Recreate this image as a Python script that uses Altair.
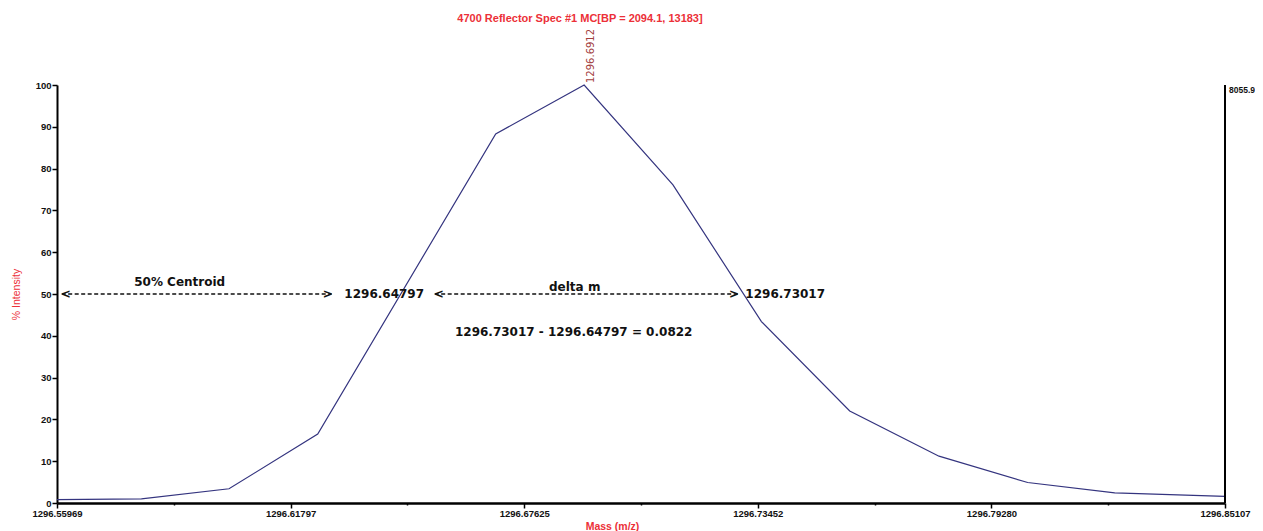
import altair as alt
import pandas as pd

# ---- data -------------------------------------------------------------
mass = [1296.55969, 1296.58075, 1296.60260, 1296.62473, 1296.66913, 1296.69120,
        1296.71336, 1296.73542, 1296.75745, 1296.77972, 1296.80185, 1296.82356,
        1296.85107]
intensity = [0.8, 1.0, 3.4, 16.5, 88.3, 100.0, 76.1, 43.4, 22.0, 11.2, 4.9, 2.4, 1.6]

x_major = [1296.55969, 1296.61797, 1296.67625, 1296.73452, 1296.79280, 1296.85107]
x_minor = [1296.58883, 1296.64711, 1296.70539, 1296.76366, 1296.82194]
y_ticks = list(range(0, 101, 5))

title_text = "4700 Reflector Spec #1 MC[BP = 2094.1, 13183]"
peak_mass = [1296.6912]
peak_level = [100]
peak_label = ["1296.6912"]
full_scale_label = ["8055.9"]

arrow_level = [50, 50]
arrow_starts = [1296.56086, 1296.65391]
arrow_ends = [1296.62822, 1296.72958]

note_text = ["50% Centroid", "1296.64797", "delta m", "1296.73017",
             "1296.73017 - 1296.64797 = 0.0822"]
note_mass = [1296.59030, 1296.64132, 1296.68884, 1296.74135, 1296.68859]
note_level = [52.8, 50.0, 51.7, 50.0, 40.8]

# ---- scales / axes ------------------------------------------------------
xscale = alt.Scale(domain=[x_major[0], x_major[-1]], nice=False, zero=False)
yscale = alt.Scale(domain=[0, 100], nice=False, zero=True)

RED = "#ec3038"
AX_FONT = "Liberation Sans"
XT = "Mass (m/z)"
YT = "% Intensity"

xaxis = alt.Axis(
    values=sorted(x_major + x_minor),
    labelExpr="round(datum.index * 10) % 2 === 0 ? format(datum.value, '.5f') : ''",
    tickSize={"condition": {"test": "round(datum.index * 10) % 2 === 0", "value": 5}, "value": 2},
    grid=False, domainColor="black", domainWidth=2.5, tickColor="black", tickWidth=1.5,
    labelFont=AX_FONT, labelFontWeight="bold", labelFontSize=9.5, labelColor="#111",
    labelFlush=False, labelOverlap=False, labelPadding=0,
    titleFont=AX_FONT, titleFontWeight="bold", titleFontSize=10.5, titleColor=RED,
    titleX=555, titleY=23, titleBaseline="middle", titleAlign="center",
)
yaxis = alt.Axis(
    values=y_ticks,
    labelExpr="datum.value % 10 === 0 ? datum.value : ''",
    tickSize={"condition": {"test": "datum.value % 10 === 0", "value": 5}, "value": 3},
    grid=False, domainColor="black", domainWidth=2, tickColor="black", tickWidth=1.5,
    labelFont=AX_FONT, labelFontWeight="bold", labelFontSize=9.5, labelColor="#111",
    labelPadding=1, labelOverlap=False,
    titleFont=AX_FONT, titleFontWeight="normal", titleFontSize=10.5, titleColor=RED,
    titleX=-41, titleY=209, titleAngle=270, titleBaseline="middle", titleAlign="center",
)

X = lambda f: alt.X(f, scale=xscale, title=XT)
Y = lambda f: alt.Y(f, scale=yscale, title=YT)

# ---- layers -------------------------------------------------------------
spec_df = pd.DataFrame({"mass": mass, "intensity": intensity})
line = alt.Chart(spec_df).mark_line(color="#34347f", strokeWidth=1.2).encode(
    x=alt.X("mass:Q", scale=xscale, axis=xaxis, title=XT),
    y=alt.Y("intensity:Q", scale=yscale, axis=yaxis, title=YT),
)

arrow_df = pd.DataFrame({"mass": arrow_starts, "mass_end": arrow_ends, "intensity": arrow_level})
dashes = alt.Chart(arrow_df).mark_rule(color="#111", strokeWidth=1.3, strokeDash=[4, 2.5]).encode(
    x=X("mass:Q"), x2="mass_end:Q", y=Y("intensity:Q"),
)
left_heads = alt.Chart(arrow_df).mark_text(
    text="<", align="left", baseline="middle", font="DejaVu Sans", fontWeight="bold",
    fontSize=12, color="#111", dx=-1).encode(x=X("mass:Q"), y=Y("intensity:Q"))
right_heads = alt.Chart(arrow_df).mark_text(
    text=">", align="right", baseline="middle", font="DejaVu Sans", fontWeight="bold",
    fontSize=12, color="#111", dx=1).encode(x=X("mass_end:Q"), y=Y("intensity:Q"))

note_df = pd.DataFrame({"mass": note_mass, "intensity": note_level, "label": note_text})
notes = alt.Chart(note_df).mark_text(
    align="center", baseline="middle", font="DejaVu Sans", fontWeight="bold",
    fontSize=12, color="#111").encode(x=X("mass:Q"), y=Y("intensity:Q"), text="label:N")

peak_df = pd.DataFrame({"mass": peak_mass, "intensity": peak_level, "label": peak_label})
peak = alt.Chart(peak_df).mark_text(
    angle=270, align="left", baseline="middle", font="DejaVu Sans", fontSize=10,
    color="#a3403e", dx=2, dy=7).encode(x=X("mass:Q"), y=Y("intensity:Q"), text="label:N")

right_df = pd.DataFrame({"mass": [x_major[-1]], "intensity": [0], "top": [100],
                         "label": full_scale_label})
right_axis = alt.Chart(right_df).mark_rule(color="black", strokeWidth=2).encode(
    x=X("mass:Q"), y=Y("intensity:Q"), y2="top:Q")
right_label = alt.Chart(right_df).mark_text(
    align="left", baseline="middle", font=AX_FONT, fontWeight="bold", fontSize=8.5,
    color="#111", dx=4, dy=5).encode(x=X("mass:Q"), y=Y("top:Q"), text="label:N")

chart = alt.layer(
    line, dashes, left_heads, right_heads, notes, peak, right_axis, right_label
).properties(
    width=1168,
    height=418,
    background="white",
    autosize=alt.AutoSizeParams(type="none"),
    padding={"left": 49, "top": 77, "right": 30, "bottom": 28},
    title=alt.TitleParams(
        title_text, anchor="middle", frame="group", font=AX_FONT, fontSize=11,
        fontWeight="bold", color=RED, baseline="middle", offset=0, dx=-61, dy=1,
    ),
).configure_view(strokeWidth=0)

chart.save("out.html", embed_options={"renderer": "svg", "actions": False})
